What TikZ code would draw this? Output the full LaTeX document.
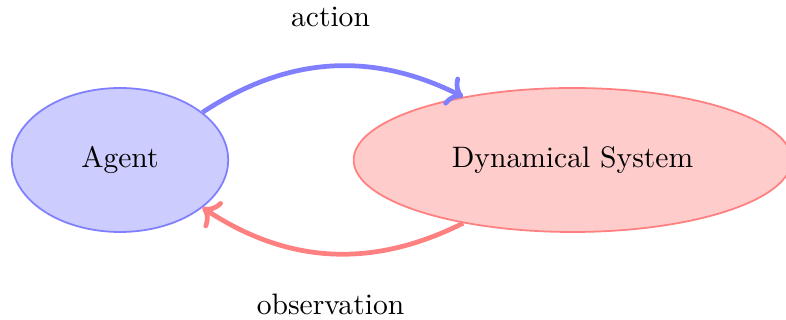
\documentclass[tikz,border=0pt]{standalone}
\usetikzlibrary{arrows.meta,positioning,calc,shapes.geometric}

\begin{document}
\begin{tikzpicture}[
 blob/.style={ellipse,semithick,align=center,minimum height=1.71cm},
 arr/.style={->,ultra thick}]
\useasboundingbox (0,0) rectangle (9.335,3.8);
\node[blob,draw=blue!50,fill=blue!20,minimum width=2.57cm] (agent) at (1.425,1.9) {Agent};
\node[blob,draw=red!50,fill=red!20,minimum width=5.2cm] (sys) at (6.8,1.9) {Dynamical System};
\draw[arr,blue!50] (agent) to[bend left] node[above=3.3mm,black] {action} (sys);
\draw[arr,red!50] (sys) to[bend left] node[below=3.3mm,black] {observation} (agent);
\end{tikzpicture}
\end{document}
